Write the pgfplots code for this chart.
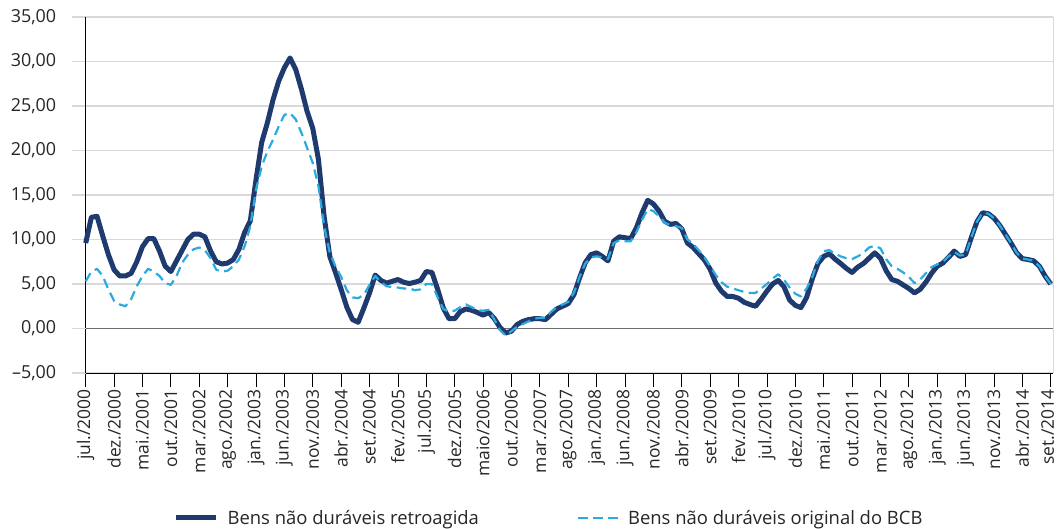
\documentclass[border=0pt]{standalone}
\usepackage{pgfplots}
\usepackage{pgfplotstable}
\pgfplotsset{compat=1.18}
\usepackage{fontspec}
\setmainfont{Open Sans}
\definecolor{navy}{HTML}{1F3A6E}
\definecolor{lblue}{HTML}{29ABE2}
\definecolor{gridg}{HTML}{D9D9D9}
\definecolor{zerog}{HTML}{6E6E6E}

\pgfplotstableread{
i s d
0 9.6 5.3
1 12.5 6.4
2 12.6 6.7
3 10.4 5.9
4 8.3 4.4
5 6.6 3.1
6 5.9 2.7
7 5.9 2.5
8 6.2 3.3
9 7.5 4.75
10 9.2 5.9
11 10.1 6.7
12 10.1 6.4
13 8.7 5.9
14 7.0 5.1
15 6.4 4.9
16 7.6 5.9
17 8.8 7.4
18 10.0 8.3
19 10.6 8.9
20 10.6 9.1
21 10.3 8.8
22 8.7 7.9
23 7.5 6.6
24 7.25 6.4
25 7.35 6.5
26 7.75 7.0
27 8.9 7.75
28 10.8 9.25
29 12.1 11.5
30 16.7 15.6
31 20.9 18.2
32 23.1 19.9
33 25.7 21.2
34 27.8 22.7
35 29.3 24.0
36 30.4 24.2
37 29.1 23.5
38 26.9 22.0
39 24.4 20.3
40 22.5 18.6
41 19.0 16.0
42 12.6 11.5
43 8.1 8.5
44 6.3 7.0
45 4.4 5.8
46 2.4 4.3
47 1.0 3.5
48 0.7 3.4
49 2.3 3.8
50 4.0 4.9
51 6.0 5.9
52 5.4 5.2
53 5.1 4.75
54 5.3 4.65
55 5.5 4.6
56 5.2 4.5
57 5.05 4.5
58 5.2 4.3
59 5.4 4.4
60 6.4 5.0
61 6.3 5.0
62 4.4 3.5
63 2.3 2.2
64 1.1 1.9
65 1.1 2.0
66 1.9 2.4
67 2.2 2.7
68 2.05 2.4
69 1.8 2.05
70 1.5 2.0
71 1.8 2.1
72 1.1 1.0
73 0.1 -0.2
74 -0.5 -0.8
75 -0.3 -0.3
76 0.45 0.2
77 0.8 0.5
78 1.0 0.8
79 1.1 1.1
80 1.1 1.2
81 1.0 1.2
82 1.6 1.9
83 2.2 2.4
84 2.5 2.7
85 2.8 3.0
86 3.8 4.0
87 5.7 5.8
88 7.4 7.3
89 8.3 8.0
90 8.5 8.1
91 8.1 8.0
92 7.6 7.8
93 9.8 9.6
94 10.3 9.9
95 10.2 9.8
96 10.1 9.8
97 11.3 10.8
98 13.0 12.2
99 14.4 13.4
100 14.0 13.2
101 13.2 12.6
102 12.05 11.9
103 11.7 11.6
104 11.8 11.5
105 11.2 11.3
106 9.6 10.0
107 9.1 9.5
108 8.4 8.8
109 7.7 8.0
110 6.65 7.0
111 5.1 6.0
112 4.2 5.2
113 3.6 4.7
114 3.6 4.5
115 3.4 4.3
116 2.95 4.1
117 2.7 4.0
118 2.5 4.0
119 3.3 4.5
120 4.2 5.0
121 5.0 5.6
122 5.4 6.1
123 4.7 5.5
124 3.2 4.6
125 2.6 3.9
126 2.35 3.6
127 3.5 4.5
128 5.6 5.8
129 7.3 7.6
130 8.1 8.7
131 8.4 8.8
132 7.8 8.4
133 7.3 8.1
134 6.75 7.9
135 6.3 7.8
136 6.9 8.1
137 7.3 8.5
138 7.9 9.1
139 8.5 9.3
140 7.9 9.0
141 6.5 7.8
142 5.5 7.0
143 5.3 6.7
144 4.9 6.3
145 4.5 5.8
146 4.0 5.1
147 4.4 5.5
148 5.2 6.2
149 6.2 6.9
150 7.0 7.2
151 7.35 7.5
152 8.0 8.1
153 8.7 8.6
154 8.1 8.2
155 8.3 8.3
156 10.2 10.2
157 12.0 12.0
158 13.0 13.0
159 12.9 12.9
160 12.4 12.4
161 11.6 11.6
162 10.6 10.6
163 9.6 9.6
164 8.5 8.5
165 7.85 7.85
166 7.75 7.75
167 7.6 7.6
168 7.0 7.0
169 5.9 5.9
170 5.0 5.0
}\data

\begin{document}
\begin{tikzpicture}
\useasboundingbox (-85.7bp,-156bp) rectangle (971.3bp,373bp);
\begin{axis}[
  at={(0,0)}, anchor=south west,
  scale only axis, width=967.3bp, height=356bp,
  xmin=0, xmax=170.4, ymin=-5, ymax=35,
  axis x line*=bottom, axis y line*=left,
  axis line style={black, line width=1bp},
  xtick={0,5,...,165},
  xticklabels={jul./2000,dez./2000,mai./2001,out./2001,mar./2002,ago./2002,jan./2003,jun./2003,nov./2003,abr./2004,set./2004,fev./2005,jul.2005,dez./2005,maio/2006,out./2006,mar./2007,ago./2007,jan./2008,jun./2008,nov./2008,abr./2009,set./2009,fev./2010,jul./2010,dez./2010,mai./2011,out./2011,mar./2012,ago./2012,jan./2013,jun./2013,nov./2013,abr./2014},
  extra x ticks={170},
  extra x tick labels={set./2014},
  extra x tick style={tick style={black, line width=0.8bp}, xticklabel style={yshift=3bp}},
  ytick={-5,0,5,10,15,20,25,30,35},
  yticklabels={{–5,00},{0,00},{5,00},{10,00},{15,00},{20,00},{25,00},{30,00},{35,00}},
  tick align=outside,
  major tick length=14bp,
  x tick style={black, line width=0.8bp},
  y tick style={gridg, line width=1.5bp},
  ymajorgrids,
  grid style={gridg, line width=1.5bp},
  extra y ticks={0},
  extra y tick labels={},
  extra y tick style={grid style={zerog, line width=1.6bp}, tick style={zerog, line width=1.6bp}},
  xticklabel style={rotate=90, anchor=east, font=\fontsize{17.5}{20}\selectfont, text=black!85, inner sep=2bp},
  yticklabel style={font=\fontsize{18}{21}\selectfont, xshift=-12bp, text=black!85},
  legend style={at={(0.479,-0.407)}, anchor=center, draw=none, fill=none,
    font=\fontsize{18.5}{21}\selectfont, text=black!85, legend columns=2,
    /tikz/every odd column/.append style={column sep=7bp},
    /tikz/every even column/.append style={column sep=96bp}},
  legend image code/.code={\draw[#1] (0bp,0bp) -- (40bp,0bp);},
  clip=false,
]
\addplot[navy, line width=5bp, line join=round] table[x=i, y=s] {\data};
\addlegendentry{Bens não duráveis retroagida}
\addplot[lblue, line width=2.2bp, dash pattern=on 9.5bp off 5.5bp, line join=round] table[x=i, y=d] {\data};
\addlegendentry{Bens não duráveis original do BCB}
\draw[gridg, line width=1bp] (rel axis cs:1,0) -- (rel axis cs:1,1);
\end{axis}
\end{tikzpicture}
\end{document}
